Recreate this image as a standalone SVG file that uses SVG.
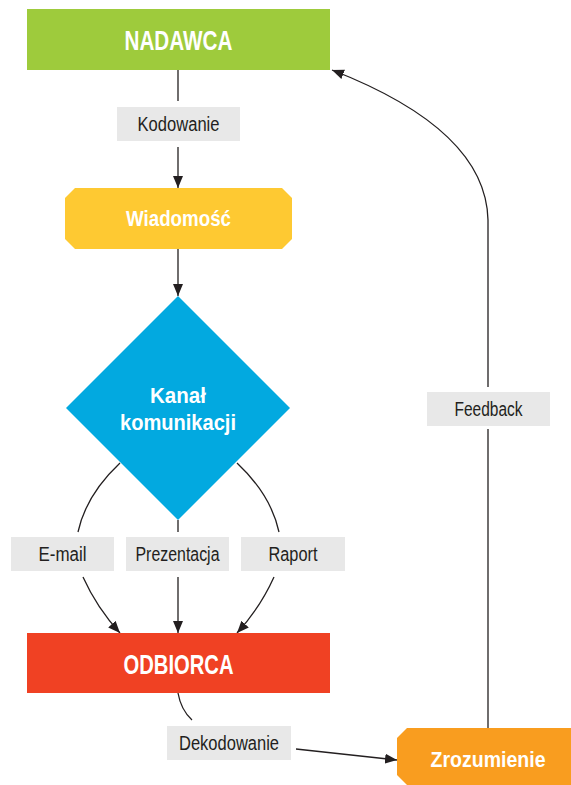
<svg xmlns="http://www.w3.org/2000/svg" width="571" height="785" viewBox="0 0 571 785">
<style>
text{font-family:"Liberation Sans","DejaVu Sans",sans-serif;text-anchor:middle;dominant-baseline:central}
.title{font-weight:bold;fill:#fff;font-size:28px}
.sub{font-weight:bold;fill:#fff;font-size:22px}
.lbl{fill:#231f20;font-size:20px}
.lblbox{fill:#e8e8e8}
.conn{fill:none;stroke:#231f20;stroke-width:1.3}
</style>
<defs>
<marker id="ah" viewBox="0 0 12 10" refX="12" refY="5" markerWidth="12" markerHeight="10" markerUnits="userSpaceOnUse" orient="auto">
<path d="M0,0 L12,5 L0,10 z" fill="#231f20"/>
</marker>
</defs>
<g id="connectors">
<path class="conn" d="M178,70 V101"/>
<path class="conn" d="M178,147 V188" marker-end="url(#ah)"/>
<path class="conn" d="M178,249 V296" marker-end="url(#ah)"/>
<path class="conn" d="M120,463 Q86,495 78,532"/>
<path class="conn" d="M178,520 V532"/>
<path class="conn" d="M237,463 Q271,495 279,532"/>
<path class="conn" d="M83,577 Q97,608 120,633" marker-end="url(#ah)"/>
<path class="conn" d="M178,577 V633" marker-end="url(#ah)"/>
<path class="conn" d="M274,577 Q260,608 237,633" marker-end="url(#ah)"/>
<path class="conn" d="M178,693 Q181,710 192,720"/>
<path class="conn" d="M296,749 L397,760" marker-end="url(#ah)"/>
<path class="conn" d="M488,728 V429"/>
<path class="conn" d="M488,387 V220 Q486,130 332,70" marker-end="url(#ah)"/>
</g>
<g id="nadawca">
<rect x="27" y="9" width="303" height="61" fill="#9ecb3c"/>
<text class="title" x="178.5" y="40" textLength="108" lengthAdjust="spacingAndGlyphs">NADAWCA</text>
</g>
<g id="kodowanie">
<rect class="lblbox" x="117" y="107" width="123" height="34"/>
<text class="lbl" x="178.5" y="124" textLength="82" lengthAdjust="spacingAndGlyphs">Kodowanie</text>
</g>
<g id="wiadomosc">
<polygon points="75,188 282,188 292,198 292,239 282,249 75,249 65,239 65,198" fill="#fec932"/>
<text class="sub" x="178.5" y="218.5" textLength="105" lengthAdjust="spacingAndGlyphs">Wiadomość</text>
</g>
<g id="kanal">
<polygon points="178,296 290,408 178,520 66,408" fill="#02a9e0"/>
<text class="sub" x="178" y="395" textLength="56" lengthAdjust="spacingAndGlyphs">Kanał</text>
<text class="sub" x="178" y="422" textLength="116" lengthAdjust="spacingAndGlyphs">komunikacji</text>
</g>
<g id="email">
<rect class="lblbox" x="11" y="537" width="103" height="34"/>
<text class="lbl" x="62.5" y="554" textLength="48" lengthAdjust="spacingAndGlyphs">E-mail</text>
</g>
<g id="prezentacja">
<rect class="lblbox" x="126" y="537" width="103" height="34"/>
<text class="lbl" x="177.5" y="554" textLength="84" lengthAdjust="spacingAndGlyphs">Prezentacja</text>
</g>
<g id="raport">
<rect class="lblbox" x="241" y="537" width="104" height="34"/>
<text class="lbl" x="293" y="554" textLength="49" lengthAdjust="spacingAndGlyphs">Raport</text>
</g>
<g id="odbiorca">
<rect x="27" y="633" width="303" height="60" fill="#f04123"/>
<text class="title" x="178.5" y="664" textLength="110" lengthAdjust="spacingAndGlyphs">ODBIORCA</text>
</g>
<g id="dekodowanie">
<rect class="lblbox" x="167" y="726" width="124" height="34"/>
<text class="lbl" x="229" y="743" textLength="100" lengthAdjust="spacingAndGlyphs">Dekodowanie</text>
</g>
<g id="zrozumienie">
<polygon points="407,728 571,728 571,785 407,785 397,775 397,738" fill="#f99d1f"/>
<text class="sub" x="488" y="759" textLength="115" lengthAdjust="spacingAndGlyphs">Zrozumienie</text>
</g>
<g id="feedback">
<rect class="lblbox" x="427" y="392" width="123" height="34"/>
<text class="lbl" x="488.5" y="409" textLength="68" lengthAdjust="spacingAndGlyphs">Feedback</text>
</g>
</svg>
